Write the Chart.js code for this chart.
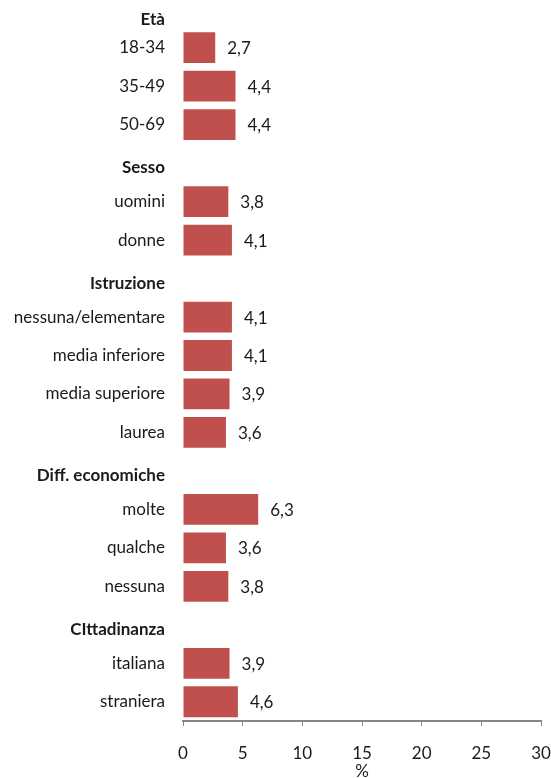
<!DOCTYPE html>
<html>
<head>
<meta charset="utf-8">
<script src="https://cdn.jsdelivr.net/npm/chart.js@4"></script>
<style>
    html, body { margin: 0; padding: 0; background: #fff; overflow: hidden; }
    #wrap { position: relative; width: 551px; height: 800px; margin-top: -10px; }
</style>
</head>
<body>
<div id="wrap"><canvas id="profileChart"></canvas></div>
<script>
const categories = [
    'Età', '18-34', '35-49', '50-69',
    'Sesso', 'uomini', 'donne',
    'Istruzione', 'nessuna/elementare', 'media inferiore', 'media superiore', 'laurea',
    'Diff. economiche', 'molte', 'qualche', 'nessuna',
    'CIttadinanza', 'italiana', 'straniera'
];
const groupHeaders = ['Età', 'Sesso', 'Istruzione', 'Diff. economiche', 'CIttadinanza'];
// header rows carry no bar
const values = [
    null, 2.7, 4.4, 4.4,
    null, 3.8, 4.1,
    null, 4.1, 4.1, 3.9, 3.6,
    null, 6.3, 3.6, 3.8,
    null, 3.9, 4.6
];
const xTicks = [0, 5, 10, 15, 20, 25, 30];

const FONT = "Lato, 'Open Sans', sans-serif";
const TEXT = '#1a1a1a';

// prints the value (decimal comma) just right of each bar
const valueLabels = {
    id: 'valueLabels',
    afterDatasetsDraw(chart) {
        const ctx = chart.ctx;
        const meta = chart.getDatasetMeta(0);
        ctx.save();
        ctx.font = `17px ${FONT}`;
        ctx.fillStyle = TEXT;
        ctx.textAlign = 'left';
        ctx.textBaseline = 'middle';
        meta.data.forEach((bar, i) => {
            const v = values[i];
            if (v === null) return;
            ctx.fillText(v.toFixed(1).replace('.', ','), bar.x + 12, bar.y + 1);
        });
        ctx.restore();
    }
};

new Chart(document.getElementById('profileChart'), {
    type: 'bar',
    data: {
        labels: categories,
        datasets: [{
            data: values,
            backgroundColor: '#C0504D',
            borderWidth: 0,
            barPercentage: 0.8,
            categoryPercentage: 1.0
        }]
    },
    options: {
        indexAxis: 'y',
        responsive: true,
        maintainAspectRatio: false,
        animation: false,
        layout: { padding: { top: 0, right: 10, bottom: 0, left: 0 } },
        plugins: {
            legend: { display: false },
            tooltip: { enabled: false }
        },
        scales: {
            x: {
                min: 0,
                max: 30,
                afterBuildTicks: (scale) => {
                    scale.ticks = xTicks.map(v => ({ value: v }));
                },
                afterFit: (scale) => {
                    scale.height = 69;
                    scale.paddingLeft = 0;
                    scale.paddingRight = 0;
                },
                grid: {
                    drawOnChartArea: false,
                    drawTicks: true,
                    tickLength: 5,
                    color: '#868686'
                },
                border: { display: true, color: '#868686', width: 2 },
                ticks: {
                    color: TEXT,
                    font: { family: FONT, size: 17 },
                    padding: 17,
                    maxRotation: 0
                },
                title: {
                    display: true,
                    text: '%',
                    color: TEXT,
                    font: { family: FONT, size: 17 },
                    padding: { top: 0, bottom: 8 }
                }
            },
            y: {
                afterFit: (scale) => {
                    scale.width = 183;
                    scale.paddingTop = 0;
                    scale.paddingBottom = 0;
                },
                grid: { display: false, drawTicks: false },
                border: { display: false },
                ticks: {
                    autoSkip: false,
                    padding: 18,
                    color: TEXT,
                    // group headers sit a little below their row: an empty first
                    // line pushes them down by half the line height
                    callback: function (value) {
                        const label = this.getLabelForValue(value);
                        return groupHeaders.includes(label) ? ['', label] : label;
                    },
                    font: (ctx) => {
                        const label = categories[ctx.index];
                        if (!groupHeaders.includes(label)) {
                            return { family: FONT, size: 17, weight: 'normal' };
                        }
                        const lh = ctx.index === 0 ? '21px' : '9px';
                        return { family: FONT, size: 17, weight: 'bold', lineHeight: lh };
                    }
                }
            }
        }
    },
    plugins: [valueLabels]
});
</script>
</body>
</html>
